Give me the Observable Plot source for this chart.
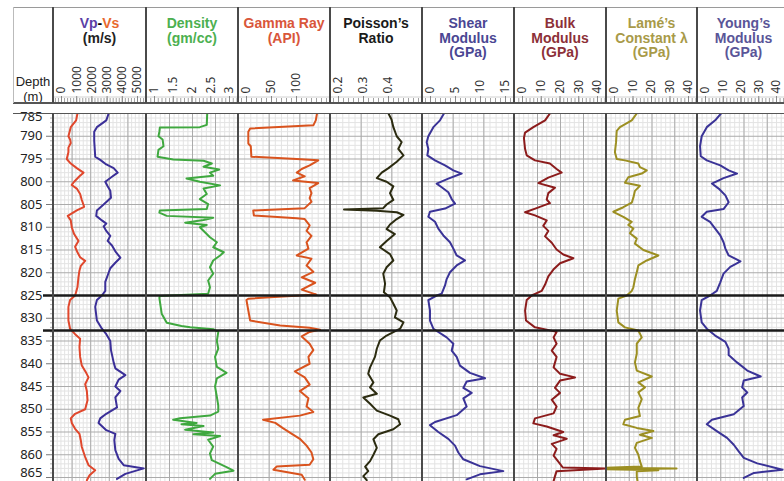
<!DOCTYPE html>
<html><head><meta charset="utf-8">
<script src="https://cdn.jsdelivr.net/npm/d3@7"></script>
<script src="https://cdn.jsdelivr.net/npm/@observablehq/plot@0.6"></script>
<style>
body{margin:0;background:#fff;}
#chart{position:relative;width:784px;height:481px;overflow:hidden;background:#fff;font-family:"Liberation Sans",Arial,sans-serif;}
.abs{position:absolute;}
.abs svg{max-width:none !important;}
.title{position:absolute;top:16px;text-align:center;font-weight:bold;font-size:14px;line-height:14.5px;}
.line{position:absolute;}
</style></head><body><div id="chart"></div>
<script>
// ---------- data ----------
const depthTicks = [785,790,795,800,805,810,815,820,825,830,835,840,845,850,855,860,865];
const markerDepths = [825, 832.7];

const vsDepth = [785,786.5,788,790,790.7,791.5,792.5,793.5,795,796,797,798,798.8,800,800.7,801.5,802.7,804,805.5,806.3,807.5,808.5,810,811.5,813,814.3,815.5,816.6,817.4,818.5,819.5,821,823.2,825,826,827.5,830.5,832.3,833.5,834.5,836.3,838.5,840.4,842,843,844.5,846,848,850,851,852,853,854.3,855.4,856.8,858.3,860.5,862.3,863.4,864.5,865.6];
const vsVal = [1288,1216,928,802,892,928,802,802,712,928,1252,1612,1396,1108,982,1252,1432,1522,1648,1252,766,928,982,1108,1342,1162,1288,1432,1703,1468,1396,1342,1288,1162,892,802,802,892,1162,1432,1396,1432,1522,1757,1883,1703,1793,1829,1703,1162,928,982,1162,1396,1468,1522,1703,1883,2243,1937,1793];

const vpDepth = [785,786.5,788,789,791,794.5,795.2,796.2,797,798,798.9,800,801,802,803.5,805,806.3,807.5,808.5,809.2,809.8,810.8,811.9,813,814,815.3,816.7,817.8,819,820,822,824,825,826,827.5,830.5,832.3,833.5,835,837,839.7,841,842.5,843.5,845,846,847.4,849.6,851,852,853,854.6,855.4,856.8,859,860.9,862.3,863,864.2,865.3];
const vpVal = [2964,2838,2333,2189,2189,2243,2513,2838,3234,3450,3144,2784,2910,3054,3090,2694,2333,2297,2604,2838,2694,2838,3054,2910,3144,3324,3594,3324,3054,2964,2784,2784,2604,2333,2243,2333,2604,2838,3054,3090,3234,3324,3865,3504,3324,3594,3324,3414,2838,2513,2423,2838,3324,3270,3324,3504,3774,4855,3865,3414];

const rhoDepth = [785,787.5,788,788.1,789,790,790.7,792.2,793,794.5,795.1,795.4,796,796.7,797.3,798,798.7,799.3,800,800.8,801.5,802.7,803.8,804.9,806,806.3,806.8,807.5,807.9,808.4,809,809.5,810,811.1,812.2,813.3,814.4,815.5,816.2,817.3,818.8,820.2,821.7,823.2,824.6,825.1,825.5,829,831,831.7,832,832.4,833,835,836.7,838.5,840.7,842,843.2,845,847.3,849.2,850.5,851.4,852,852.3,853,853.3,853.7,854.5,855.1,855.5,855.9,856.7,858.2,859.7,861.2,862.7,863.5,864.2,865.3];
const rhoVal = [2.32,2.31,2.16,1.29,1.28,1.26,1.35,1.37,1.26,1.24,1.58,2.24,2.42,2.24,2.58,2.38,2.45,1.87,2.16,2.6,2.24,2.31,2.16,2.34,2.31,1.29,1.28,1.44,2.45,2.24,1.84,2.31,2.16,2.27,2.38,2.53,2.45,2.68,2.6,2.45,2.38,2.45,2.34,2.38,2.34,1.29,1.28,1.33,1.44,1.76,1.95,2.45,2.56,2.53,2.56,2.49,2.53,2.74,2.53,2.49,2.53,2.56,2.56,2.38,1.73,1.58,2.09,1.76,2.24,1.84,2.45,2.02,2.6,2.34,2.45,2.38,2.42,2.74,2.89,2.49,2.38];

const grDepth = [785,786.5,787.6,788.3,789,791.6,792.2,794.5,795,795.3,796.4,797.2,798,798.8,799.7,800.3,801.4,802.5,803.6,804.4,805.8,806.3,807.4,808,808.2,809.6,810.8,811.9,813.3,814.7,816.2,816.9,818.4,819.8,821,822.2,823.7,824.8,825.7,826,828.3,830.5,831.6,832.1,832.5,833,834,835.6,837,838.5,840,841.7,843,844.6,846,847.6,849.4,850.6,851.4,852.3,853,854.2,855.4,856.5,858,859.5,861,862.2,862.6,863.3,864.4,865.5];
const grVal = [128,126,122,19,16,16,20,21,95,130,116,103,95,108,89,130,116,119,116,119,108,24,25,95,108,116,111,119,111,114,95,119,111,122,103,125,103,127,16,13,16,19,68,116,133,116,103,116,122,114,116,92,108,116,100,114,111,122,100,40,60,73,87,100,111,119,122,116,62,57,103,108];

const prDepth = [785,786.3,788,790,791.3,792.8,794.2,795.6,797,798,799.2,800,801,802.5,804,805,805.8,806.1,806.4,806.7,807.3,808.2,809.4,810.4,811.5,813,814.4,815.9,817.3,818.8,820.2,822.4,824.3,825.4,826.8,828.3,829.8,830.9,832.3,833.8,834.9,836.7,838.5,840.8,842.2,844.1,845.2,846.6,847.4,848.8,850.3,851.4,852.2,853.3,854.4,855.5,856.6,858.5,860,861.4,862.6,863.6,864.7,865.6];
const prVal = [0.389,0.399,0.405,0.416,0.432,0.421,0.438,0.416,0.389,0.367,0.351,0.383,0.405,0.394,0.405,0.383,0.372,0.244,0.351,0.416,0.438,0.416,0.394,0.383,0.41,0.383,0.361,0.394,0.405,0.383,0.372,0.378,0.374,0.394,0.405,0.416,0.41,0.438,0.427,0.383,0.361,0.351,0.345,0.329,0.323,0.34,0.329,0.351,0.307,0.329,0.351,0.394,0.421,0.427,0.405,0.356,0.34,0.351,0.34,0.329,0.313,0.323,0.307,0.318];

const shDepth = [785,786.5,788,790,791.3,792.8,794.2,795.3,796.4,797.5,798.2,799.3,800.4,801.2,802.3,803.8,804.8,805.9,806.6,807.7,808.8,810.3,811.8,813.3,814.7,816.2,817.3,818.4,819.9,821.4,822.8,824.6,825,826,828.3,830.5,832.3,834.2,835.6,837.1,838.5,840.4,842,843.2,843.9,845.3,846.4,847.6,849.4,851.3,852.8,853.5,855,856.5,858,859.5,861,862.5,863.6,864.3,865.4];
const shVal = [3.5,2.85,1.77,0.95,0.68,0.95,0.79,2.04,3.67,5.03,6.39,4.21,2.31,3.13,4.21,4.76,5.3,3.67,1.22,0.95,2.04,2.58,3.4,4.48,5.03,5.57,6.93,5.57,4.48,3.94,3.67,3.13,2.31,0.95,1.22,1.22,1.77,3.94,5.03,4.76,5.57,6.11,7.74,10.19,7.2,6.66,8.02,6.66,7.2,5.57,2.04,1.22,2.58,4.21,5.3,5.84,6.66,9.37,13.18,9.37,7.2];

const bkDepth = [785,786.5,788,789.2,790.4,792.8,794.2,795.3,796,797.2,798,799.1,800.3,801.3,802.5,803.9,804.7,805.8,806.7,807.4,808.5,809.7,810.8,812,813.4,814.9,816,816.8,817.9,819.3,820.8,822.6,824,825,826,828.3,830.5,832,832.5,833,834.2,835.6,837.1,838.5,840.8,842.2,843,843.7,845.3,846.4,847.9,849.4,850.9,852,853.1,853.8,855,855.7,856.5,857.6,858.7,860.2,862,862.8,863,863.6,864.7,865.8];
const bkVal = [15.4,13.3,8.2,4.6,4.1,4.6,5.3,8.9,15.4,18.3,20.5,14.7,10.4,17.6,14.7,14,15.4,9.6,4.6,8.9,14,12.5,14.7,13.3,16.2,18.3,21.2,25.6,19.8,16.9,14.7,13.3,11.8,7.5,5.3,4.6,5.0,8.9,14,18.3,17,18.3,16.2,18.3,17,19.8,26.3,19.8,17.6,19.8,16.2,18.3,17,8.9,8.2,14,21.2,17,22.7,16.2,18.3,17,19.8,21,40,18.3,17.6,17];

const lmDepth = [785,786.5,788,788.8,791.3,793.5,795,795.3,796,796.8,797.5,798.2,799,800.2,800.9,802,803.5,804.6,805.6,806.6,807.7,808.8,809.5,810.3,811.3,812.5,813.6,815,816.2,817.3,818.4,819.9,821.4,823.2,824,825,825.7,828.3,830.9,832,832.7,834.2,835.6,837.8,839.7,841.5,842.8,844.1,845.2,846.3,847.8,849.7,851.5,852.3,853.3,854.1,854.8,855.6,856.3,857.4,858.5,860,861.4,862.6,862.85,863,863.2,863.4,863.6,864.7,865.8];
const lmVal = [13.3,11.1,5.9,4.5,4.2,3.7,4.5,8.1,14,14.7,17.7,15.5,9.6,8.1,14.7,12.5,11.8,11.1,7.4,3.0,7.4,11.1,9.6,11.8,10.3,13.3,12.5,16.2,22.8,17.7,14,13.3,12.5,11.8,11.1,8.9,5.2,4.5,5.2,8.1,14,15.5,13.3,13.3,12.5,13.3,19.9,14,16.9,14,15.5,14,14.7,8.1,7.4,13.3,20.6,14.7,19.9,13.3,12.5,14,14.7,15.5,-1,30.8,-1,22.8,13.3,13.3,13.6];

const ymDepth = [785,786.5,788,790,792.2,794.4,795.3,796.4,797.5,798.2,799.2,800.4,801.5,803,804.5,806,806.6,807.7,808.8,810.3,811.8,813.3,814.7,816.2,817.5,818.7,820.2,822.1,824,825,826,828.3,830.9,832.3,833.8,835.2,836.7,838.1,839.7,841.5,842.8,843.7,845.2,846.3,847.4,849.3,851.1,852.3,853.3,854.8,856.3,857.8,859.3,860.7,861.9,863.3,864,865.1];
const ymVal = [10.1,7.6,4.0,1.8,1.1,1.4,4.0,9.8,13.4,17,11.2,6.2,9.1,12,13.4,11.2,4.0,1.8,5.4,7.6,9.8,11.2,12,13.4,18.5,14.1,11.2,9.8,8.3,5.4,1.8,1.1,1.8,4.0,7.6,12,13.4,13.4,17,21.4,27.2,19.9,19.2,21.4,19.2,19.9,15.6,6.2,4.0,8.3,12.7,15.6,17.8,19.9,25.7,36.6,24.3,19.9];

const vpvsLabels = [0,1000,2000,3000,4000,5000];
const rhoLabels = [1,1.5,2,2.5,3];
const grLabels = [0,50,100];
const prLabels = [0.2,0.3,0.4];
const shLabels = [0,5,10,15];
const gpaLabels = [0,10,20,30,40];

// ---------- layout ----------
const edges = [53,146,238,330,422,514,606,697,790];
const TOP = 113, H = 368, PXM = 4.55;
const DMAX = 785 + H / PXM;

const tracks = [
  {title:'<span style="color:#5b3fa6">Vp</span>-<span style="color:#e8692e">Vs</span><br><span style="color:#222">(m/s)</span>',
   domain:[0,5000], major:1000, labels:vpvsLabels,
   curves:[{d:vsDepth,v:vsVal,c:"#e0472c"},{d:vpDepth,v:vpVal,c:"#3b2f98"}]},
  {title:'<span style="color:#4cb050">Density<br>(gm/cc)</span>', domain:[1,3], major:0.5, labels:rhoLabels,
   curves:[{d:rhoDepth,v:rhoVal,c:"#3fa83f"}]},
  {title:'<span style="color:#d9563a">Gamma Ray<br>(API)</span>', domain:[0,150], major:50, labels:grLabels,
   curves:[{d:grDepth,v:grVal,c:"#d9531e"}]},
  {title:'<span style="color:#1a1a1a">Poisson\u2019s<br>Ratio</span>', domain:[0.2,0.5], major:0.1, labels:prLabels,
   curves:[{d:prDepth,v:prVal,c:"#2b2b10"}]},
  {title:'<span style="color:#4a4693">Shear<br>Modulus<br>(GPa)</span>', domain:[0,15], major:5, labels:shLabels,
   curves:[{d:shDepth,v:shVal,c:"#3a3397"}]},
  {title:'<span style="color:#8c3038">Bulk<br>Modulus<br>(GPa)</span>', domain:[0,40], major:10, labels:gpaLabels,
   curves:[{d:bkDepth,v:bkVal,c:"#8c1c1c"}]},
  {title:'<span style="color:#a89a48">Lam\u00e9\u2019s<br>Constant \u03bb<br>(GPa)</span>', domain:[0,40], major:10, labels:gpaLabels,
   curves:[{d:lmDepth,v:lmVal,c:"#9c8f22"}]},
  {title:'<span style="color:#5a5598">Young\u2019s<br>Modulus<br>(GPa)</span>', domain:[0,40], major:10, labels:gpaLabels,
   curves:[{d:ymDepth,v:ymVal,c:"#3a3397"}]}
];

const chart = document.getElementById("chart");
function place(el, left, top, w, h) {
  const wrap = document.createElement("div");
  wrap.className = "abs";
  Object.assign(wrap.style, {left: left + "px", top: top + "px", width: w + "px", height: h + "px"});
  wrap.appendChild(el); chart.appendChild(wrap); return wrap;
}
function line(left, top, w, h, color) {
  const d = document.createElement("div");
  d.className = "line";
  Object.assign(d.style, {left: left+"px", top: top+"px", width: w+"px", height: h+"px", background: color});
  chart.appendChild(d);
}

const depthAll = d3.range(785, 866, 1);
const depthMinor = depthAll.filter(d => d % 5 !== 0);

// depth column
place(Plot.plot({
  width: 53, height: H, margin: 0,
  style: {background: "transparent", overflow: "visible"},
  x: {domain: [0, 53], range: [0, 53], axis: null},
  y: {domain: [785, DMAX], range: [0, H], axis: null},
  marks: [
    Plot.ruleY(depthMinor, {x1: 50, x2: 53, stroke: "#b0b0b0"}),
    Plot.ruleY(depthTicks, {x1: 46, x2: 53, stroke: "#777"}),
    Plot.text(depthTicks.filter(d => d > 785 && d < 865), {x: 42, y: d => d, text: d => String(d), textAnchor: "end", fontSize: 13, fill: "#222"}),
    Plot.text([785], {x: 42, y: d => d, text: d => String(d), textAnchor: "end", lineAnchor: "top", dy: -2, fontSize: 13, fill: "#222"}),
    Plot.text([865], {x: 42, y: d => d, text: d => String(d), textAnchor: "end", lineAnchor: "bottom", dy: -1, fontSize: 13, fill: "#222"}),
    Plot.ruleY(markerDepths, {x1: 43, x2: 53, stroke: "#1a1a1a", strokeWidth: 2.5})
  ]
}), 0, TOP, 53, H);

// depth header
const dh = document.createElement("div");
dh.innerHTML = "Depth<br>(m)";
Object.assign(dh.style, {position: "absolute", left: "13px", width: "40px", top: "74px", textAlign: "center", fontSize: "13px", lineHeight: "15px", color: "#222"});
chart.appendChild(dh);

tracks.forEach((t, i) => {
  const left = edges[i], W = edges[i+1] - edges[i];
  const [lo, hi] = t.domain;
  const step = t.major / 5;
  const major = d3.range(0, Math.round((hi - lo) / t.major) + 1).map(k => lo + k * t.major);
  const minor = d3.range(0, Math.round((hi - lo) / step) + 1).map(k => lo + k * step);

  // data panel
  place(Plot.plot({
    width: W, height: H, margin: 0,
    style: {background: "transparent", overflow: "hidden"},
    x: {domain: t.domain, range: [0, W], axis: null},
    y: {domain: [785, DMAX], range: [0, H], axis: null},
    marks: [
      Plot.ruleX(minor, {stroke: "#e3e3e3"}),
      Plot.ruleY(depthMinor, {stroke: "#e3e3e3"}),
      Plot.ruleX(major, {stroke: "#ababab"}),
      Plot.ruleY(depthTicks, {stroke: "#ababab"}),
      ...t.curves.map(c => Plot.line(c.d, {x: c.v, y: c.d, stroke: c.c, strokeWidth: 2, strokeLinejoin: "round"})),
      Plot.ruleY(markerDepths, {stroke: "#1a1a1a", strokeWidth: 2.5})
    ]
  }), left, TOP, W, H);

  // header ruler + tick labels
  const r0 = 8, r1 = (i === tracks.length - 1) ? W - 14 : W - 9;
  const k = (hi - lo) / (r1 - r0);
  const a = lo - r0 * k, b = lo + (W - r0) * k;
  const rulerTicks = d3.range(Math.ceil(a / step - 1e-9), Math.floor(b / step + 1e-9) + 1).map(j => j * step);
  place(Plot.plot({
    width: W, height: 96, margin: 0,
    style: {background: "transparent", overflow: "visible"},
    x: {domain: t.domain, range: [r0, r1], axis: null},
    y: {domain: [0, 96], range: [0, 96], axis: null},
    marks: [
      Plot.ruleY([89.5], {stroke: "#d0d0d0"}),
      Plot.ruleX(rulerTicks.filter(v => { const p = r0 + (v - lo) / k; return p > 1 && p < W - 1; }), {y1: 91, y2: 96, stroke: "#a0a0a0"}),
      Plot.ruleX(t.labels, {y1: 89, y2: 96, stroke: "#888"}),
      Plot.text(t.labels, {x: d => d, y: 86, text: d => String(d), rotate: -90, textAnchor: "start", fontSize: 12, fill: "#333"})
    ]
  }), left, 7, W, 96);

  const ti = document.createElement("div");
  ti.className = "title";
  ti.innerHTML = t.title;
  ti.style.left = left + "px"; ti.style.width = W + "px";
  chart.appendChild(ti);
});

// frame lines
line(13, 7, 771, 1, "#9a9a9a");
line(13, 102, 771, 1.5, "#555");
line(13, 112.5, 771, 1.5, "#555");
line(13, 7, 1, 96, "#bbb");
edges.slice(0, 8).forEach(e => {
  line(e - 1, 7, 2, 96, "#4a4a4a");
  line(e - 1, 113, 2, 368, "#4a4a4a");
});
</script></body></html>
